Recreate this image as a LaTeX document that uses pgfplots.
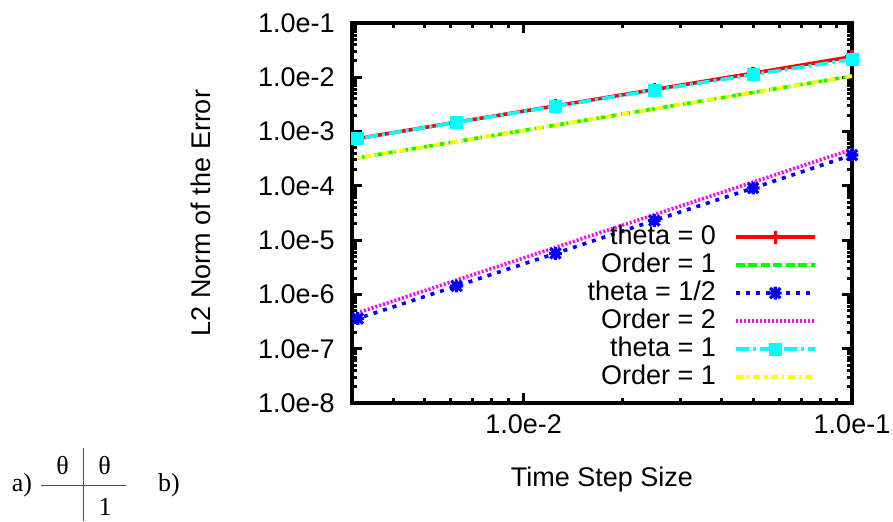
\documentclass[border=0pt]{standalone}
\usepackage{fontspec}
\setmainfont{Liberation Sans}
\newfontfamily\tabfont{Liberation Serif}
\usepackage{pgfplots}
\pgfplotsset{compat=1.18}
\definecolor{gpred}{RGB}{255,0,0}
\definecolor{gpgreen}{RGB}{0,255,0}
\definecolor{gpblue}{RGB}{0,0,255}
\definecolor{gpmagenta}{RGB}{255,0,255}
\definecolor{gpcyan}{RGB}{0,255,255}
\definecolor{gpyellow}{RGB}{255,255,0}
\pgfdeclareplotmark{gpast}{%
  \pgfpathmoveto{\pgfqpoint{-\pgfplotmarksize}{0pt}}\pgfpathlineto{\pgfqpoint{\pgfplotmarksize}{0pt}}%
  \pgfpathmoveto{\pgfqpoint{0pt}{-\pgfplotmarksize}}\pgfpathlineto{\pgfqpoint{0pt}{\pgfplotmarksize}}%
  \pgfpathmoveto{\pgfqpoint{-.8\pgfplotmarksize}{-.8\pgfplotmarksize}}\pgfpathlineto{\pgfqpoint{.8\pgfplotmarksize}{.8\pgfplotmarksize}}%
  \pgfpathmoveto{\pgfqpoint{-.8\pgfplotmarksize}{.8\pgfplotmarksize}}\pgfpathlineto{\pgfqpoint{.8\pgfplotmarksize}{-.8\pgfplotmarksize}}%
  \pgfusepathqstroke}
\newcommand{\gpfont}{\fontsize{13.5}{16}\selectfont}
\newcommand{\tl}[1]{{\gpfont #1}}
\begin{document}
\begin{tikzpicture}
\path[use as bounding box] (0,0) rectangle (446.5pt,260.5pt);
\begin{axis}[
  at={(176pt,59pt)}, anchor=south west,
  width=250pt, height=190pt, scale only axis,
  xmode=log, ymode=log,
  xmin=0.003, xmax=0.1, ymin=1e-8, ymax=1e-1,
  font=\gpfont,
  tick label style={font=\gpfont},
  label style={font=\gpfont},
  xtick={0.01,0.1}, xticklabels={\tl{1.0e-2},\tl{1.0e-1}},
  ytick={1e-8,1e-7,1e-6,1e-5,1e-4,1e-3,1e-2,1e-1},
  yticklabels={\tl{1.0e-8},\tl{1.0e-7},\tl{1.0e-6},\tl{1.0e-5},\tl{1.0e-4},\tl{1.0e-3},\tl{1.0e-2},\tl{1.0e-1}},
  minor xtick={0.004,0.005,0.006,0.007,0.008,0.009,0.02,0.03,0.04,0.05,0.06,0.07,0.08,0.09},
  minor ytick={2e-8,3e-8,4e-8,5e-8,6e-8,7e-8,8e-8,9e-8,
               2e-7,3e-7,4e-7,5e-7,6e-7,7e-7,8e-7,9e-7,
               2e-6,3e-6,4e-6,5e-6,6e-6,7e-6,8e-6,9e-6,
               2e-5,3e-5,4e-5,5e-5,6e-5,7e-5,8e-5,9e-5,
               2e-4,3e-4,4e-4,5e-4,6e-4,7e-4,8e-4,9e-4,
               2e-3,3e-3,4e-3,5e-3,6e-3,7e-3,8e-3,9e-3,
               2e-2,3e-2,4e-2,5e-2,6e-2,7e-2,8e-2,9e-2},
  tick align=inside, major tick length=5pt, minor tick length=2.5pt,
  tick style={black, line width=1.5pt},
  axis line style={line width=2pt},
  xticklabel style={anchor=north, inner sep=0pt, yshift=-5.5pt},
  yticklabel style={anchor=east, inner sep=0pt, xshift=-8.5pt},
  xlabel={Time Step Size}, ylabel={L2 Norm of the Error},
  every axis x label/.style={at={(axis description cs:0.5,-0.2026)}, anchor=center},
  every axis y label/.style={at={(axis description cs:-0.302,0.5)}, anchor=center, rotate=90},
  legend cell align=right, legend plot pos=right,
  legend style={draw=none, fill=none, font=\gpfont, at={(axis description cs:1,0)}, anchor=south east,
    xshift=-17.5pt, yshift=6.5pt, inner sep=0pt, row sep=1.5pt, column sep=9pt,
    nodes={inner sep=0pt, text height=10pt, text depth=2.5pt}},
  legend image code/.code={\draw[mark repeat=2, mark phase=2, #1] plot coordinates {(0pt,0pt) (19.75pt,0pt) (39.5pt,0pt)};},
]
\addplot[color=gpred, line width=1.8pt, mark=+, mark size=3.3pt, mark options={solid}]
  coordinates {(0.1,0.0240) (0.05,0.0119) (0.025,0.00595) (0.0125,0.00297) (0.00625,0.00149) (0.003125,0.000745)};
\addlegendentry{theta = 0}
\addplot[color=gpgreen, line width=1.8pt, dash pattern=on 4.5pt off 1.75pt]
  coordinates {(0.1,0.0105) (0.05,0.00525) (0.025,0.002625) (0.0125,0.0013125) (0.00625,0.00065625) (0.003125,0.000328)};
\addlegendentry{Order = 1}
\addplot[color=gpblue, line width=1.8pt, dash pattern=on 2pt off 3pt, mark=gpast, mark size=3.2pt, mark options={solid, line width=1.6pt}]
  coordinates {(0.1,3.7e-4) (0.05,9.1e-5) (0.025,2.3e-5) (0.0125,5.7e-6) (0.00625,1.43e-6) (0.003125,3.6e-7)};
\addlegendentry{theta = 1/2}
\addplot[color=gpmagenta, line width=1.8pt, dash pattern=on 1pt off 1pt]
  coordinates {(0.1,4.7e-4) (0.05,1.175e-4) (0.025,2.94e-5) (0.0125,7.34e-6) (0.00625,1.836e-6) (0.003125,4.59e-7)};
\addlegendentry{Order = 2}
\addplot[color=gpcyan, line width=1.8pt, dash pattern=on 6.5pt off 2pt on 1.5pt off 2pt, mark=square*, mark size=3pt, mark options={solid, fill=gpcyan, line width=0.5pt}]
  coordinates {(0.1,0.0214) (0.05,0.0112) (0.025,0.0058) (0.0125,0.00292) (0.00625,0.00148) (0.003125,0.00074)};
\addlegendentry{theta = 1}
\addplot[color=gpyellow, line width=1.8pt, dash pattern=on 3.5pt off 2pt on 1.2pt off 2pt]
  coordinates {(0.1,0.0105) (0.05,0.00525) (0.025,0.002625) (0.0125,0.0013125) (0.00625,0.00065625) (0.003125,0.000328)};
\addlegendentry{Order = 1}
\end{axis}
\begin{scope}[every node/.style={font=\tabfont\fontsize{13}{15}\selectfont, inner sep=0pt}]
\node[anchor=base] at (11pt,15pt) {a)};
\node[anchor=base] at (31.25pt,23.5pt) {θ};
\node[anchor=base] at (52.25pt,23.5pt) {θ};
\node[anchor=base] at (52.5pt,3pt) {1};
\node[anchor=base] at (84.5pt,15pt) {b)};
\draw[line width=0.5pt, black!70] (20.5pt,18pt) -- (63pt,18pt);
\draw[line width=0.5pt, black!70] (41.5pt,0pt) -- (41.5pt,36.5pt);
\end{scope}
\end{tikzpicture}
\end{document}
